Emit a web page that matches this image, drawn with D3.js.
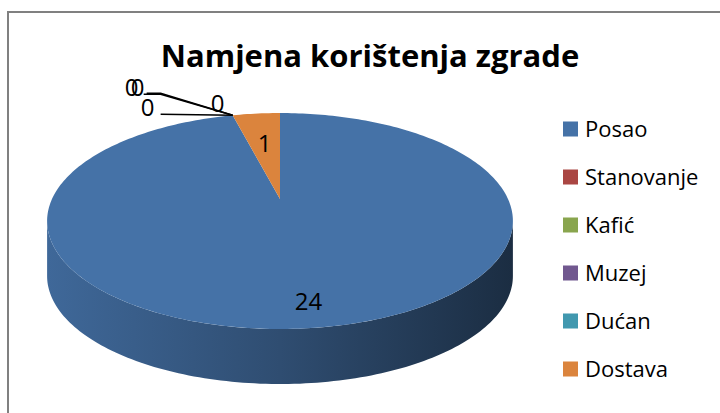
<!DOCTYPE html>
<html>
<head>
<meta charset="utf-8">
<script src="https://cdn.jsdelivr.net/npm/d3@7"></script>
<style>
  body { margin: 0; background: #fff; }
  svg { display: block; font-family: "Open Sans", sans-serif; }
</style>
</head>
<body>
<svg width="720" height="413"></svg>
<script>
const title = "Namjena korištenja zgrade";
const categories = ["Posao", "Stanovanje", "Kafić", "Muzej", "Dućan", "Dostava"];
const values = [24, 0, 0, 0, 0, 1];
const colors = ["#4572A7", "#AA4643", "#89A54E", "#71588F", "#4198AF", "#DB843D"];

const svg = d3.select("svg");

// chart frame (runs off the right and bottom edge)
svg.append("rect")
  .attr("x", 8).attr("y", 12)
  .attr("width", 730).attr("height", 420)
  .attr("fill", "none")
  .attr("stroke", "#808080")
  .attr("stroke-width", 2);

svg.append("text")
  .attr("x", 370).attr("y", 67)
  .attr("text-anchor", "middle")
  .style("font-size", "31px")
  .style("font-weight", "bold")
  .text(title);

// 3d pie with a bit of perspective
const cx = 280, cy = 199;     // projected pie centre
const A = 228, B = 103.5;     // radii
const k = 0.204;              // perspective strength
const depth = 55;

function proj(a, r = 1, dy = 0) {
  const u = r * Math.sin(a), v = r * Math.cos(a);
  const w = 1 + k * v;
  return [cx + A * u / w, cy - B * v / w + dy];
}

function rim(a0, a1, dy = 0) {
  const n = Math.max(2, Math.ceil((a1 - a0) / 0.02));
  return d3.range(n + 1).map(i => proj(a0 + (a1 - a0) * i / n, 1, dy));
}

const pie = d3.pie().sort(null).value(d => d.value);
const arcs = pie(categories.map((c, i) => ({ name: c, value: values[i], color: colors[i] })));

const line = d3.line();
const xLeft = cx - A / Math.sqrt(1 - k * k), xRight = cx + A / Math.sqrt(1 - k * k);

// side gradients
const defs = svg.append("defs");
arcs.forEach((d, i) => {
  const g = defs.append("linearGradient")
    .attr("id", "side" + i)
    .attr("gradientUnits", "userSpaceOnUse")
    .attr("x1", xLeft).attr("x2", xRight).attr("y1", 0).attr("y2", 0);
  const c = d3.color(d.data.color);
  [[0, 0.25], [0.5, 1.1], [1, 2.6]].forEach(([o, dk]) => {
    g.append("stop").attr("offset", o).attr("stop-color", c.darker(dk).formatHex());
  });
});

// front side band
const front0 = Math.PI / 2 + Math.asin(k), front1 = 3 * Math.PI / 2 - Math.asin(k);
const sides = svg.append("g");
arcs.forEach((d, i) => {
  const s = Math.max(d.startAngle, front0), e = Math.min(d.endAngle, front1);
  if (s >= e) return;
  const pts = rim(s, e).concat(rim(s, e, depth).reverse());
  sides.append("path")
    .attr("d", line(pts) + "Z")
    .attr("fill", `url(#side${i})`);
});

// top faces
svg.append("g").selectAll("path")
  .data(arcs.filter(d => d.value > 0))
  .join("path")
  .attr("d", d => line([[cx, cy]].concat(rim(d.startAngle, d.endAngle))) + "Z")
  .attr("fill", d => d.data.color);

// value labels
const labelR = d => d.value > 12 ? 0.83 : 0.6;
const labels = svg.append("g").style("font-size", "24px");
arcs.filter(d => d.value > 0).forEach(d => {
  const p = proj((d.startAngle + d.endAngle) / 2, labelR(d));
  labels.append("text")
    .attr("x", p[0]).attr("y", p[1])
    .attr("text-anchor", "middle")
    .attr("dy", "0.35em")
    .text(d.value);
});

// zero-value labels piled up at the slice edge, with leader lines
const zeros = arcs.filter(d => d.value === 0);
const anchor = proj(zeros[0].startAngle);
const zeroSpots = [
  { dx: -15, dy: -12, leader: null },
  { dx: -85, dy: -8, leader: [[-72, -1]] },
  { dx: -101, dy: -28, leader: [[-89, -21], [-72, -21]] },
  { dx: -95, dy: -28, leader: [[-86, -22], [-72, -22]] }
];
zeros.forEach((d, i) => {
  const s = zeroSpots[i];
  if (s.leader) {
    const pts = s.leader.map(([x, y]) => [anchor[0] + x, anchor[1] + y]).concat([anchor]);
    labels.append("path")
      .attr("d", line(pts))
      .attr("fill", "none")
      .attr("stroke", "#000")
      .attr("stroke-width", 1.5);
  }
  labels.append("text")
    .attr("x", anchor[0] + s.dx).attr("y", anchor[1] + s.dy)
    .attr("text-anchor", "middle")
    .attr("dy", "0.35em")
    .text(d.value);
});

// legend
const legend = svg.append("g").attr("transform", "translate(563,129)");
const item = legend.selectAll("g")
  .data(categories)
  .join("g")
  .attr("transform", (d, i) => `translate(0,${i * 48})`);
item.append("rect")
  .attr("y", -7.5).attr("width", 15).attr("height", 15)
  .attr("fill", (d, i) => colors[i]);
item.append("text")
  .attr("x", 22).attr("dy", "0.35em")
  .style("font-size", "22px")
  .text(d => d);
</script>
</body>
</html>
